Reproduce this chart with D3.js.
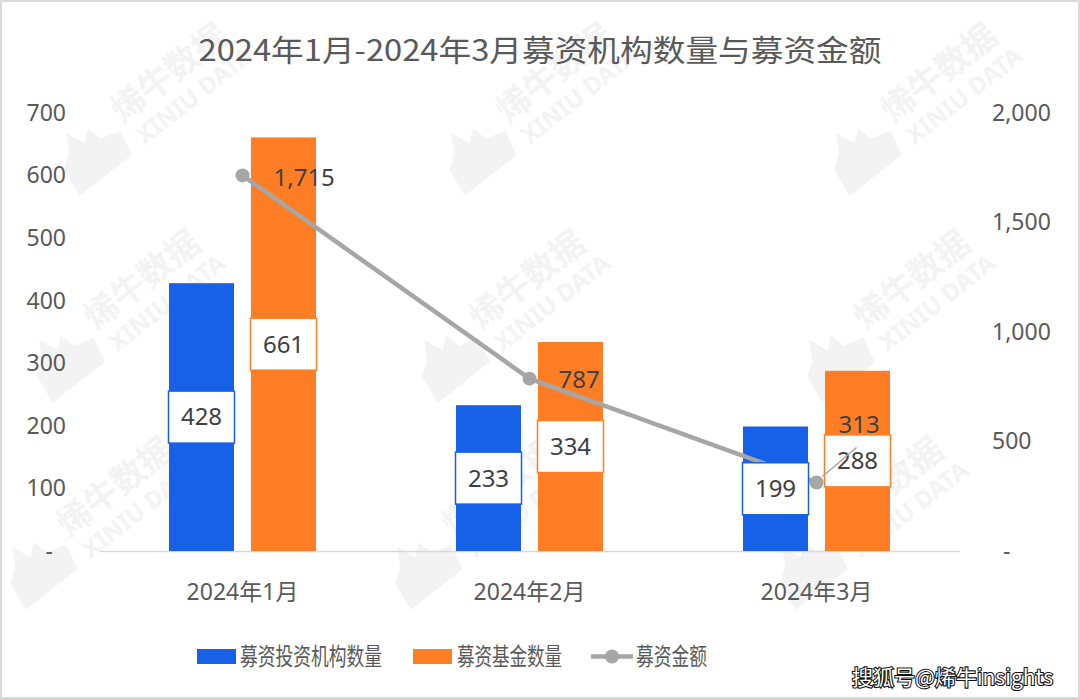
<!DOCTYPE html>
<html><head><meta charset="utf-8">
<script src="https://cdn.jsdelivr.net/npm/d3@7/dist/d3.min.js"></script>
<style>
html,body{margin:0;padding:0;background:#fff;}
svg{display:block;font-family:"Noto Sans","Noto Sans CJK SC",sans-serif;}
</style></head>
<body>
<svg id="chart" width="1080" height="699"></svg>
<script>
const title = "2024年1月-2024年3月募资机构数量与募资金额";
const categories = ["2024年1月", "2024年2月", "2024年3月"];
const institutionCounts = [428, 233, 199];
const fundCounts = [661, 334, 288];
const raisedAmounts = [1715, 787, 313];
const leftTicks = [0, 100, 200, 300, 400, 500, 600, 700];
const rightTicks = [0, 500, 1000, 1500, 2000];
const seriesNames = ["募资投资机构数量", "募资基金数量", "募资金额"];
const colors = {blue: "#1661E8", orange: "#FF7D24", line: "#A6A6A6", text: "#595959", label: "#404040"};

const svg = d3.select("#chart");
svg.append("rect").attr("x",1).attr("y",1).attr("width",1078).attr("height",697)
  .attr("fill","#fff").attr("stroke","#d9d9d9").attr("stroke-width",2);

// watermarks
const wm = svg.append("g").attr("fill","#f3f3f3");
for (let j = 0; j < 3; j++) for (let i = 0; i < 3; i++) {
  const gx = 92 + 385*i - 27*j, gy = 153 + 207*j;
  const g = wm.append("g").attr("transform", `translate(${gx},${gy}) rotate(-38)`);
  g.append("path").attr("d","M-36,26 L-32,-4 L-18,-14 L-8,-32 L0,-12 L12,-22 L16,-6 L36,0 L30,26 Z");
  g.append("text").attr("x",42).attr("y",-4).attr("font-size",34).attr("font-weight","bold")
    .attr("font-family","Noto Sans CJK SC").text("烯牛数据");
  g.append("text").attr("x",46).attr("y",26).attr("font-size",24).attr("font-weight","bold").text("XINIU DATA");
}

const x = d3.scaleBand().domain(categories).range([99, 960]).padding(0);
const yL = d3.scaleLinear().domain([0, 700]).range([551, 113]);
const yR = d3.scaleLinear().domain([0, 2000]).range([551, 113]);
const bw = 65, gap = 17;
const cx = c => x(c) + x.bandwidth()/2;

// title
svg.append("text").attr("x",540).attr("y",61).attr("text-anchor","middle")
  .attr("font-size",30).attr("fill",colors.text).attr("font-family","Noto Sans CJK SC")
  .attr("textLength",683).attr("lengthAdjust","spacingAndGlyphs").text(title);

// left axis
const fmt = d3.format(",");
const la = svg.append("g").attr("transform","translate(66,0)")
  .call(d3.axisLeft(yL).tickValues(leftTicks).tickSize(0).tickPadding(0).tickFormat(d => d === 0 ? "-" : fmt(d)));
la.select(".domain").remove();
la.selectAll("text").attr("font-size",23).attr("fill",colors.text).attr("font-family","Noto Sans")
  .attr("dx", d => d === 0 ? -13 : 0);

// right axis
const ra = svg.append("g").attr("transform","translate(992,0)")
  .call(d3.axisRight(yR).tickValues(rightTicks).tickSize(0).tickPadding(0).tickFormat(d => d === 0 ? "-" : fmt(d)));
ra.select(".domain").remove();
ra.selectAll("text").attr("font-size",23).attr("fill",colors.text).attr("font-family","Noto Sans")
  .attr("dx", d => d === 0 ? 11 : 0);

// x axis
const xa = svg.append("g").attr("transform","translate(0,551)")
  .call(d3.axisBottom(x).tickSize(0).tickPadding(33));
xa.select(".domain").attr("stroke","#d9d9d9").attr("stroke-width",1.5).attr("d","M100,0.5H960");
xa.selectAll("text").attr("font-size",23).attr("fill",colors.text).attr("font-family","Noto Sans, Noto Sans CJK SC");

// bars
svg.append("g").selectAll("rect").data(categories).join("rect")
  .attr("x", c => cx(c) - gap/2 - bw).attr("width", bw)
  .attr("y", (c,i) => yL(institutionCounts[i])).attr("height", (c,i) => yL(0) - yL(institutionCounts[i]))
  .attr("fill", colors.blue);
svg.append("g").selectAll("rect").data(categories).join("rect")
  .attr("x", c => cx(c) + gap/2).attr("width", bw)
  .attr("y", (c,i) => yL(fundCounts[i])).attr("height", (c,i) => yL(0) - yL(fundCounts[i]))
  .attr("fill", colors.orange);

// line
const line = d3.line().x((d,i) => cx(categories[i])).y(d => yR(d));
svg.append("path").datum(raisedAmounts).attr("d", line).attr("fill","none")
  .attr("stroke", colors.line).attr("stroke-width",4.5).attr("stroke-linejoin","round");
svg.append("g").selectAll("circle").data(raisedAmounts).join("circle")
  .attr("cx",(d,i)=>cx(categories[i])).attr("cy", d => yR(d)).attr("r",7).attr("fill",colors.line);

// bar label boxes
function boxLabels(vals, xOff, col) {
  const g = svg.append("g");
  categories.forEach((c,i) => {
    const v = vals[i];
    const mid = (yL(v) + yL(0))/2;
    const bx = cx(c) + xOff;
    g.append("rect").attr("x", bx - 0.5).attr("y", mid - 26).attr("width", bw + 1).attr("height", 52)
      .attr("fill","#fff").attr("stroke", col).attr("stroke-width",1.5);
    g.append("text").attr("x", bx + bw/2).attr("y", mid).attr("dy","0.35em").attr("text-anchor","middle")
      .attr("font-size",24).attr("fill",colors.label).text(fmt(v));
  });
}
boxLabels(institutionCounts, -gap/2 - bw, colors.blue);
boxLabels(fundCounts, gap/2, colors.orange);

// line labels
const lineLabelOffsets = [[31, 2], [29, 1], [22, -58]];
raisedAmounts.forEach((v,i) => {
  const px = cx(categories[i]), py = yR(v);
  const [dx, dy] = lineLabelOffsets[i];
  if (dy < -10) {
    svg.append("line").attr("x1", px + 6).attr("y1", py - 6).attr("x2", px + 40).attr("y2", py - 35)
      .attr("stroke", colors.line).attr("stroke-width", 1.5);
  }
  svg.append("text").attr("x", px + dx).attr("y", py + dy).attr("dy","0.35em")
    .attr("font-size",24).attr("fill",colors.label).text(fmt(v));
});

// legend
const lg = svg.append("g");
lg.append("rect").attr("x",197).attr("y",649).attr("width",39).attr("height",15).attr("fill",colors.blue);
lg.append("rect").attr("x",413).attr("y",649).attr("width",39).attr("height",15).attr("fill",colors.orange);
lg.append("line").attr("x1",591).attr("x2",633).attr("y1",656.5).attr("y2",656.5).attr("stroke",colors.line).attr("stroke-width",4.5);
lg.append("circle").attr("cx",612).attr("cy",656.5).attr("r",7).attr("fill",colors.line);
const legendText = [[240, 142], [457, 105], [636, 71]];
seriesNames.forEach((n,i) => {
  lg.append("text").attr("x", legendText[i][0]).attr("y", 656.5).attr("dy","0.36em")
    .attr("font-size",23.5).attr("fill",colors.text).attr("font-family","Noto Sans CJK SC")
    .attr("textLength", legendText[i][1]).attr("lengthAdjust","spacingAndGlyphs").text(n);
});

// source watermark
svg.append("text").attr("x",852).attr("y",678).attr("dy","0.35em")
  .attr("font-size",21).attr("fill","#fff").attr("stroke","#111").attr("stroke-width",2.2)
  .attr("paint-order","stroke").attr("font-family","Noto Sans CJK SC")
  .attr("textLength",201).attr("lengthAdjust","spacingAndGlyphs").text("搜狐号@烯牛insights");
</script>
</body></html>
